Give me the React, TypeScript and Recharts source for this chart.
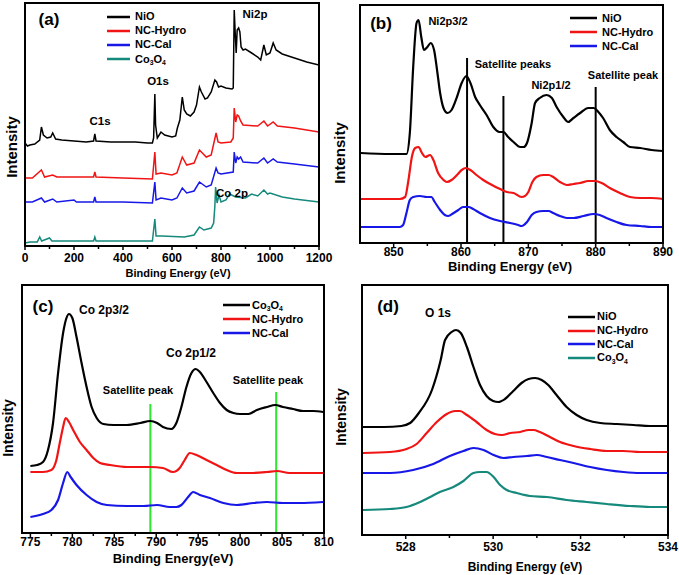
import React from "react";
import { Legend, Line, LineChart, ReferenceLine, XAxis, YAxis } from "recharts";

type Pt = [number, number];

const FONT = "'Liberation Sans', Arial, Helvetica, sans-serif";
const BLACK = "#000000";
const RED = "#f01414";
const BLUE = "#1717e8";
const TEAL = "#15897b";

// ---- (a) survey spectra: [binding energy eV, intensity a.u.]
const surveyNiO: Pt[] = [
  [0, 103], [10, 100], [20, 101], [40, 102], [60, 106], [67, 119], [75, 111], [90, 108], [105, 109],
  [113, 113], [125, 107], [150, 106], [200, 105], [250, 104], [280, 105], [285, 112], [290, 105],
  [350, 104], [400, 104], [450, 104], [500, 103], [520, 103], [525, 108], [530, 152], [533, 121],
  [540, 108], [555, 114], [570, 111], [600, 109], [615, 110], [622, 118], [632, 126], [642, 149],
  [650, 136], [660, 132], [675, 130], [690, 134], [700, 141], [712, 159], [720, 154], [735, 147],
  [745, 148], [760, 154], [775, 166], [782, 164], [790, 159], [800, 160], [820, 158], [845, 157],
  [850, 158], [854, 236], [858, 213], [862, 193], [866, 216], [872, 218], [877, 214], [882, 199],
  [890, 196], [900, 197], [925, 193], [950, 189], [962, 186], [975, 201], [985, 191], [1000, 193],
  [1013, 203], [1025, 196], [1050, 192], [1100, 188], [1150, 184], [1200, 181],
];
const surveyHydro: Pt[] = [
  [0, 68], [30, 68], [67, 76], [80, 69], [113, 71], [130, 69], [200, 69], [280, 69], [285, 74],
  [290, 69], [400, 68], [520, 67], [530, 94], [535, 72], [555, 73], [600, 71], [620, 73], [642, 89],
  [660, 81], [690, 83], [712, 96], [740, 89], [760, 91], [780, 113], [788, 104], [800, 103],
  [840, 104], [850, 108], [854, 138], [860, 124], [866, 131], [872, 130], [880, 125], [890, 121],
  [950, 120], [975, 125], [990, 120], [1013, 124], [1030, 120], [1100, 118], [1200, 114],
];
const surveyCal: Pt[] = [
  [0, 44], [30, 44], [67, 48], [80, 44], [113, 47], [130, 44], [200, 46], [210, 44], [280, 44],
  [285, 49], [290, 44], [400, 44], [520, 43], [530, 64], [535, 46], [555, 48], [600, 46], [620, 48],
  [642, 58], [660, 53], [690, 55], [712, 64], [740, 59], [760, 61], [780, 78], [788, 73], [800, 72],
  [850, 74], [854, 94], [860, 83], [866, 89], [872, 87], [880, 89], [890, 84], [950, 83], [975, 88],
  [990, 83], [1013, 87], [1030, 84], [1100, 82], [1200, 79],
];
const surveyCo: Pt[] = [
  [0, 3], [20, 4], [50, 4], [60, 9], [68, 5], [100, 8], [110, 5], [200, 5], [280, 5], [285, 9],
  [290, 5], [400, 5], [520, 5], [530, 27], [535, 10], [560, 10], [650, 9], [690, 11], [712, 19],
  [730, 16], [760, 18], [770, 23], [775, 40], [778, 59], [784, 43], [792, 51], [800, 44], [820, 46],
  [835, 52], [860, 49], [900, 48], [925, 52], [950, 50], [975, 56], [990, 52], [1000, 53],
  [1050, 49], [1100, 47], [1200, 44],
];

// ---- (b) Ni 2p
const ni2pNiO: Pt[] = [
  [845.1, 90], [849.5, 89], [851.9, 89], [852.4, 110], [852.9, 176], [853.4, 220], [853.7, 223],
  [854.1, 206], [854.5, 193], [855.0, 196], [855.5, 200], [856.0, 193], [856.5, 170], [856.9, 150],
  [857.4, 135], [858.0, 130], [858.6, 133], [859.4, 146], [860.1, 160], [860.8, 167], [861.4, 160],
  [862.1, 146], [862.8, 138], [863.8, 128], [864.8, 116], [865.7, 111], [866.3, 111], [867.0, 106],
  [867.8, 101], [868.8, 96], [869.3, 96], [869.8, 100], [870.5, 120], [871.0, 140], [871.7, 145],
  [872.7, 148], [873.5, 145], [874.2, 136], [875.2, 126], [875.9, 121], [876.7, 125], [877.7, 130],
  [878.9, 135], [879.7, 135], [880.4, 131], [881.1, 125], [882.1, 113], [883.1, 106], [884.1, 101],
  [885.1, 96], [886.6, 95], [888.3, 93], [890, 92],
];
const ni2pHydro: Pt[] = [
  [845.1, 44], [850.9, 44], [851.7, 46], [852.2, 63], [852.7, 86], [853.2, 95], [853.7, 96],
  [854.2, 90], [854.7, 86], [855.4, 88], [855.9, 83], [856.6, 70], [857.4, 63], [857.9, 61],
  [858.6, 63], [859.4, 68], [860.1, 73], [860.7, 75], [861.4, 73], [862.3, 68], [863.3, 63],
  [864.6, 58], [865.8, 54], [866.8, 51], [867.8, 50], [869.0, 46], [869.5, 47], [870.0, 51],
  [870.6, 61], [871.2, 66], [872.2, 68], [873.0, 68], [873.7, 66], [874.7, 61], [875.7, 58],
  [876.7, 59], [877.7, 60], [878.9, 62], [879.9, 62], [880.9, 60], [882.1, 55], [883.6, 50],
  [885.1, 46], [886.6, 45], [888.3, 45], [890, 44],
];
const ni2pCal: Pt[] = [
  [845.1, 16], [850.9, 16], [851.4, 18], [851.9, 30], [852.4, 43], [852.9, 46], [853.9, 47],
  [854.9, 46], [855.6, 46], [856.1, 41], [856.9, 33], [857.6, 28], [858.1, 27], [858.9, 30],
  [859.6, 33], [860.3, 36], [861.1, 36], [861.8, 34], [862.8, 30], [864.3, 25], [865.8, 22],
  [867.3, 20], [868.5, 18], [869.0, 17], [869.8, 21], [870.5, 28], [871.2, 31], [872.2, 32],
  [873.0, 32], [873.7, 30], [874.7, 27], [875.7, 25], [876.7, 25], [878.2, 27], [879.7, 29],
  [880.6, 28], [881.6, 25], [883.1, 21], [884.6, 18], [886.6, 17], [888.3, 16], [890, 16],
];

// ---- (c) Co 2p
const co2pCo: Pt[] = [
  [775.0, 67], [775.8, 68], [776.5, 71], [777.1, 83], [777.7, 110], [778.3, 160], [778.9, 200],
  [779.3, 215], [779.6, 219], [780.0, 215], [780.5, 196], [781.1, 170], [781.7, 146], [782.3, 126],
  [782.9, 115], [783.7, 109], [784.9, 108], [786.5, 108], [788.1, 110], [789.3, 112], [790.1, 110],
  [790.8, 106], [791.8, 104], [792.4, 110], [793.0, 126], [793.6, 146], [794.2, 160], [794.7, 164],
  [795.2, 161], [796.0, 151], [796.8, 140], [797.6, 130], [798.4, 123], [799.2, 120], [800.0, 119],
  [801.0, 119], [802.0, 123], [803.2, 126], [804.2, 128], [805.1, 126], [806.3, 124], [807.5, 122],
  [808.7, 122], [809.9, 121],
];
const co2pHydro: Pt[] = [
  [775.0, 61], [776.5, 61], [777.5, 63], [778.1, 73], [778.5, 90], [778.9, 106], [779.2, 115],
  [779.6, 111], [780.1, 103], [780.9, 91], [781.7, 83], [782.5, 75], [783.3, 70], [784.5, 68],
  [786.5, 66], [788.1, 66], [789.3, 66], [790.8, 65], [792.0, 61], [792.8, 65], [793.4, 73],
  [794.0, 80], [794.8, 78], [796.0, 73], [797.2, 68], [798.4, 63], [799.6, 60], [801.2, 60],
  [803.2, 61], [804.4, 62], [805.9, 60], [807.9, 60], [809.9, 60],
];
const co2pCal: Pt[] = [
  [775.0, 16], [776.5, 19], [777.5, 23], [778.3, 33], [778.9, 50], [779.4, 61], [779.8, 56],
  [780.5, 48], [781.7, 38], [782.9, 31], [784.1, 28], [786.5, 27], [788.5, 27], [790.1, 28],
  [791.6, 26], [792.4, 26], [793.0, 28], [793.8, 36], [794.4, 41], [795.2, 38], [796.4, 35],
  [798.0, 30], [799.6, 28], [801.6, 30], [803.2, 31], [805.1, 30], [807.1, 30], [809.9, 31],
];

// ---- (d) O 1s
const o1sNiO: Pt[] = [
  [527.0, 108], [527.5, 108], [527.9, 109], [528.1, 112], [528.3, 122], [528.6, 145], [528.8, 175],
  [528.9, 195], [529.05, 203], [529.15, 205], [529.26, 202], [529.4, 188], [529.55, 168],
  [529.7, 150], [529.85, 139], [530.0, 134], [530.12, 133], [530.27, 136], [530.46, 144],
  [530.65, 152], [530.81, 156], [530.96, 157], [531.11, 155], [531.26, 150], [531.45, 140],
  [531.68, 128], [531.91, 120], [532.14, 115], [532.45, 112], [532.83, 111], [533.21, 110],
  [533.59, 109], [534.0, 109],
];
const o1sHydro: Pt[] = [
  [527.02, 82], [527.64, 83], [528.02, 86], [528.25, 91], [528.48, 102], [528.71, 113],
  [528.94, 121], [529.13, 124], [529.24, 124], [529.4, 120], [529.62, 113], [529.85, 105],
  [530.04, 101], [530.2, 100], [530.39, 102], [530.62, 103], [530.81, 105], [530.92, 105],
  [531.07, 103], [531.3, 98], [531.53, 93], [531.84, 89], [532.22, 86], [532.6, 84], [532.98, 84],
  [533.36, 83], [534.0, 83],
];
const o1sCal: Pt[] = [
  [527.02, 62], [527.64, 62], [528.17, 65], [528.63, 71], [529.01, 79], [529.32, 84], [529.55, 87],
  [529.78, 85], [530.01, 80], [530.23, 77], [530.46, 78], [530.77, 79], [531.0, 80], [531.23, 78],
  [531.53, 75], [531.84, 72], [532.22, 68], [532.6, 65], [532.98, 63], [533.36, 62], [534.0, 62],
];
const o1sCo: Pt[] = [
  [527.02, 25], [527.64, 26], [528.02, 28], [528.33, 33], [528.56, 38], [528.78, 43], [529.09, 48],
  [529.32, 54], [529.55, 62], [529.7, 63], [529.85, 63], [530.01, 58], [530.16, 50], [530.31, 45],
  [530.54, 42], [530.84, 39], [531.23, 38], [531.68, 35], [532.14, 33], [532.6, 31], [533.13, 29],
  [533.59, 28], [534.0, 28],
];

// axis ticks
const ticksA = [0, 200, 400, 600, 800, 1000, 1200];
const minorA = [100, 300, 500, 700, 900, 1100];
const ticksB = [850, 860, 870, 880, 890];
const minorB = [855, 865, 875, 885];
const ticksC = [775, 780, 785, 790, 795, 800, 805, 810];
const minorC = [777.5, 782.5, 787.5, 792.5, 797.5, 802.5, 807.5];
const ticksD = [528, 530, 532, 534];
const minorD = [529, 531, 533];

type Series = { name: string; color: string; points: Pt[] };
type Mark = { x: number; top: number; color: string };
type Panel = {
  left: number;
  top: number;
  width: number;
  height: number;
  margin: { top: number; right: number; bottom: number; left: number };
  axisHeight: number;
  xDomain: [number, number];
  majors: number[];
  minors: number[];
  yMax: number;
  series: Series[];
  curve: "linear" | "monotone";
  lineWidth: number;
  tickFont: number;
  tickGap: number;
  legend: { left: number; top: number; row: number; swatch: number; gap: number };
  marks?: Mark[];
};

function chem(name: string) {
  if (name !== "Co3O4") return name;
  const s = { fontSize: "0.62em", position: "relative" as const, top: "0.35em" };
  return (
    <>
      Co<span style={s}>3</span>O<span style={s}>4</span>
    </>
  );
}

function makeTick(majors: number[], fontSize: number, gap: number) {
  return (props: any) => {
    const { x, y, payload } = props;
    const major = majors.includes(payload.value);
    return (
      <g>
        <line x1={x} x2={x} y1={y} y2={y + (major ? 4 : 3)} stroke="#000" strokeWidth={1.5} />
        {major && (
          <text x={x} y={y + gap} textAnchor="middle" fontSize={fontSize} fontWeight="bold" fontFamily={FONT} fill="#000">
            {payload.value}
          </text>
        )}
      </g>
    );
  };
}

function PanelChart({ p }: { p: Panel }) {
  const lg = p.legend;
  const m = p.margin;
  const plotW = p.width - m.left - m.right;
  const plotH = p.height - m.top - m.bottom - p.axisHeight;
  return (
    <div style={{ position: "absolute", left: p.left, top: p.top, width: p.width, height: p.height }}>
      <LineChart width={p.width} height={p.height} margin={m}>
        <XAxis
          type="number"
          dataKey="x"
          domain={p.xDomain}
          ticks={[...p.majors, ...p.minors].sort((a, b) => a - b)}
          interval={0}
          height={p.axisHeight}
          tickSize={0}
          tickMargin={0}
          tickLine={false}
          axisLine={{ stroke: "#000", strokeWidth: 2 }}
          tick={makeTick(p.majors, p.tickFont, p.tickGap)}
          allowDataOverflow
        />
        <YAxis type="number" domain={[0, p.yMax]} hide allowDataOverflow />
        {(p.marks ?? []).map((mk) => (
          <ReferenceLine
            key={mk.x}
            segment={[{ x: mk.x, y: 0 }, { x: mk.x, y: mk.top }]}
            stroke={mk.color}
            strokeWidth={2}
          />
        ))}
        {p.series.map((s) => (
          <Line
            key={s.name}
            data={s.points.map(([x, y]) => ({ x, y }))}
            dataKey="y"
            name={s.name}
            type={p.curve}
            stroke={s.color}
            strokeWidth={p.lineWidth}
            dot={false}
            activeDot={false}
            isAnimationActive={false}
          />
        ))}
        <Legend
          layout="vertical"
          align="center"
          verticalAlign="middle"
          wrapperStyle={{ left: lg.left, top: lg.top, width: "auto", height: "auto" }}
          content={() => (
            <div style={{ fontFamily: FONT }}>
              {p.series.map((s) => (
                <div key={s.name} style={{ display: "flex", alignItems: "center", height: lg.row }}>
                  <svg width={lg.swatch} height={4} style={{ display: "block" }}>
                    <line x1={0} x2={lg.swatch} y1={2} y2={2} stroke={s.color} strokeWidth={2.5} />
                  </svg>
                  <span style={{ marginLeft: lg.gap, fontSize: 11, fontWeight: 700, lineHeight: 1, whiteSpace: "nowrap" }}>
                    {chem(s.name)}
                  </span>
                </div>
              ))}
            </div>
          )}
        />
      </LineChart>
      {/* plot frame */}
      <div
        style={{
          position: "absolute",
          left: m.left - 1,
          top: m.top - 1,
          width: plotW + 2,
          height: plotH + 2,
          border: "2px solid #000",
          boxSizing: "border-box",
          pointerEvents: "none",
        }}
      />
    </div>
  );
}

function Note({ x, y, size = 11.5, rotate = false, children }: { x: number; y: number; size?: number; rotate?: boolean; children: React.ReactNode }) {
  return (
    <div
      style={{
        position: "absolute",
        left: x,
        top: y,
        transform: `translate(-50%, -50%)${rotate ? " rotate(-90deg)" : ""}`,
        fontSize: size,
        fontWeight: 700,
        lineHeight: 1,
        whiteSpace: "nowrap",
        fontFamily: FONT,
        color: "#000",
      }}
    >
      {children}
    </div>
  );
}

const panels: Panel[] = [
  {
    left: 0, top: 0, width: 340, height: 290,
    margin: { top: 3, right: 21, bottom: 0, left: 25 }, axisHeight: 44,
    xDomain: [0, 1200], majors: ticksA, minors: minorA, yMax: 243,
    series: [
      { name: "NiO", color: BLACK, points: surveyNiO },
      { name: "NC-Hydro", color: RED, points: surveyHydro },
      { name: "NC-Cal", color: BLUE, points: surveyCal },
      { name: "Co3O4", color: TEAL, points: surveyCo },
    ],
    curve: "linear", lineWidth: 1.5, tickFont: 12, tickGap: 16,
    legend: { left: 107, top: 9.5, row: 14.2, swatch: 23, gap: 5 },
  },
  {
    left: 340, top: 0, width: 339, height: 290,
    margin: { top: 5, right: 16, bottom: 0, left: 20 }, axisHeight: 47,
    xDomain: [845, 890], majors: ticksB, minors: minorB, yMax: 238,
    series: [
      { name: "NiO", color: BLACK, points: ni2pNiO },
      { name: "NC-Hydro", color: RED, points: ni2pHydro },
      { name: "NC-Cal", color: BLUE, points: ni2pCal },
    ],
    curve: "monotone", lineWidth: 2.2, tickFont: 12, tickGap: 13,
    legend: { left: 230, top: 11.3, row: 14, swatch: 27, gap: 5 },
    marks: [
      { x: 860.9, top: 185, color: BLACK },
      { x: 866.3, top: 147, color: BLACK },
      { x: 880, top: 156, color: BLACK },
    ],
  },
  {
    left: 0, top: 280, width: 340, height: 295,
    margin: { top: 5, right: 16, bottom: 0, left: 22 }, axisHeight: 42,
    xDomain: [774, 810], majors: ticksC, minors: minorC, yMax: 248,
    series: [
      { name: "Co3O4", color: BLACK, points: co2pCo },
      { name: "NC-Hydro", color: RED, points: co2pHydro },
      { name: "NC-Cal", color: BLUE, points: co2pCal },
    ],
    curve: "monotone", lineWidth: 2.2, tickFont: 12, tickGap: 13,
    legend: { left: 223, top: 18, row: 14, swatch: 27, gap: 2 },
    marks: [
      { x: 789.3, top: 129, color: "#2ee62e" },
      { x: 804.3, top: 141, color: "#2ee62e" },
    ],
  },
  {
    left: 340, top: 280, width: 339, height: 295,
    margin: { top: 5, right: 11, bottom: 0, left: 22 }, axisHeight: 40,
    xDomain: [527, 534], majors: ticksD, minors: minorD, yMax: 250,
    series: [
      { name: "NiO", color: BLACK, points: o1sNiO },
      { name: "NC-Hydro", color: RED, points: o1sHydro },
      { name: "NC-Cal", color: BLUE, points: o1sCal },
      { name: "Co3O4", color: TEAL, points: o1sCo },
    ],
    curve: "monotone", lineWidth: 2.2, tickFont: 12, tickGap: 16,
    legend: { left: 228, top: 30, row: 13.7, swatch: 27, gap: 2 },
  },
];

export default function App() {
  return (
    <div style={{ position: "absolute", left: 0, top: 0, width: 679, height: 575, background: "#fff", fontFamily: FONT }}>
      {panels.map((p, i) => (
        <PanelChart key={i} p={p} />
      ))}

      {/* axis titles */}
      <Note x={178} y={273} size={11}>Binding Energy (eV)</Note>
      <Note x={510} y={266} size={13}>Binding Energy (eV)</Note>
      <Note x={173} y={558} size={13}>Binding Energy(eV)</Note>
      <Note x={525} y={567} size={12}>Binding Energy (eV)</Note>
      <Note x={11} y={147} size={15} rotate>Intensity</Note>
      <Note x={339} y={153} size={15} rotate>Intensity</Note>
      <Note x={8} y={428} size={14} rotate>Intensity</Note>
      <Note x={341} y={417} size={14} rotate>Intensity</Note>

      {/* panel letters */}
      <Note x={49} y={19} size={17}>(a)</Note>
      <Note x={381} y={23} size={17}>(b)</Note>
      <Note x={43} y={306} size={17}>(c)</Note>
      <Note x={388} y={306} size={17}>(d)</Note>

      {/* (a) */}
      <Note x={100} y={122}>C1s</Note>
      <Note x={158} y={82}>O1s</Note>
      <Note x={255} y={15}>Ni2p</Note>
      <Note x={232} y={194}>Co 2p</Note>

      {/* (b) */}
      <Note x={448} y={21} size={11}>Ni2p3/2</Note>
      <Note x={513} y={64} size={11}>Satellite peaks</Note>
      <Note x={551} y={85} size={11}>Ni2p1/2</Note>
      <Note x={623} y={75} size={11}>Satellite peak</Note>

      {/* (c) */}
      <Note x={104} y={310} size={12}>Co 2p3/2</Note>
      <Note x={138} y={390} size={11}>Satellite peak</Note>
      <Note x={191} y={353} size={12}>Co 2p1/2</Note>
      <Note x={268} y={380} size={11}>Satellite peak</Note>

      {/* (d) */}
      <Note x={438} y={313} size={12}>O 1s</Note>
    </div>
  );
}
